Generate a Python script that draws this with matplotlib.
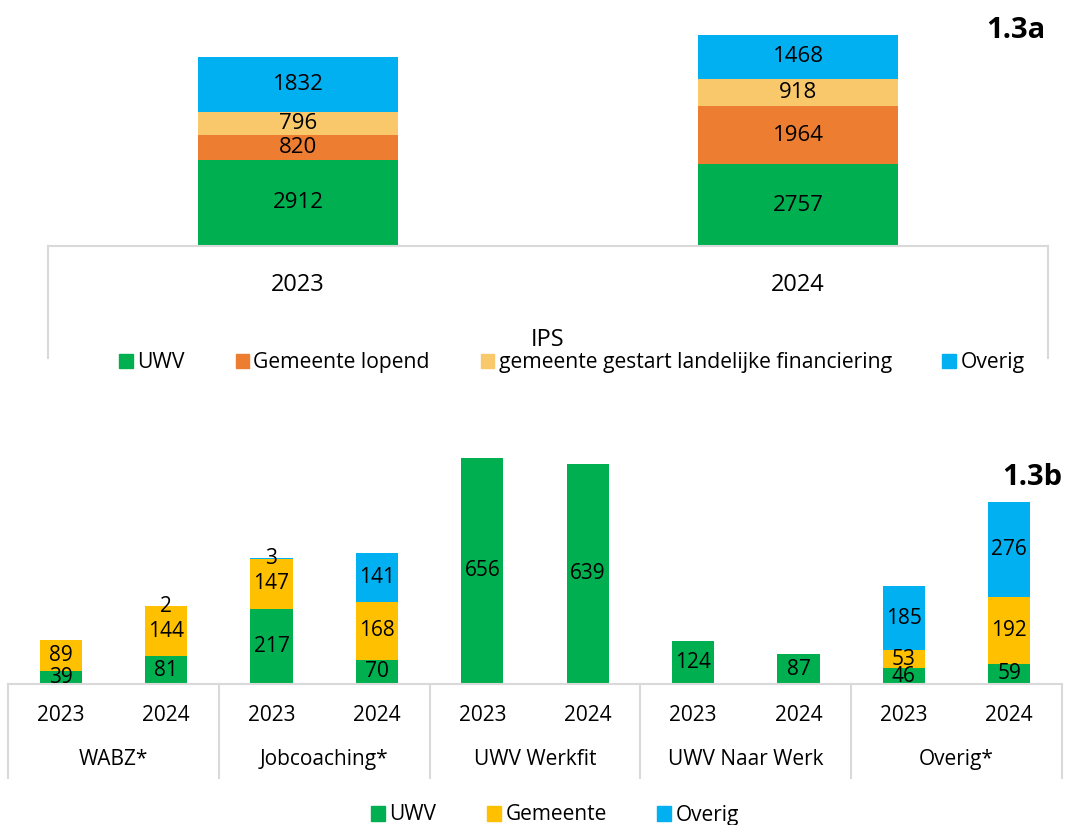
import numpy as np
import matplotlib
matplotlib.use('Agg')
import matplotlib.pyplot as plt
from matplotlib.patches import Patch
import matplotlib.transforms as mtransforms

plt.rcParams['font.family'] = ['Open Sans', 'DejaVu Sans']

# --- 1.3a IPS ---
ips_years = ['2023', '2024']
ips_uwv = [2912, 2757]
ips_gem_lopend = [820, 1964]
ips_gem_gestart = [796, 918]
ips_overig = [1832, 1468]
ips_series = ['UWV', 'Gemeente lopend', 'gemeente gestart landelijke financiering', 'Overig']

# --- 1.3b ---
groups = ['WABZ*', 'Jobcoaching*', 'UWV Werkfit', 'UWV Naar Werk', 'Overig*']
years = ['2023', '2024']
uwv_2023 = [39, 217, 656, 124, 46]
uwv_2024 = [81, 70, 639, 87, 59]
gem_2023 = [89, 147, 0, 0, 53]
gem_2024 = [144, 168, 0, 0, 192]
ov_2023 = [0, 3, 0, 0, 185]
ov_2024 = [2, 141, 0, 0, 276]
b_series = ['UWV', 'Gemeente', 'Overig']

GREEN = '#00B050'
ORANGE = '#ED7D31'
LIGHTOR = '#F8C86A'
BLUE = '#00B0F0'
GOLD = '#FFC000'
GRID = '#D9D9D9'

W, H = 1067, 825
fig = plt.figure(figsize=(W / 100, H / 100), dpi=100)

def px_axes(x0, x1, ytop, ybase):
    return fig.add_axes([x0 / W, 1 - ybase / H, (x1 - x0) / W, (ybase - ytop) / H])

def stack(ax, x, layers, colors, width, fs):
    bottom = np.zeros(len(x))
    for vals, c in zip(layers, colors):
        vals = np.array(vals, dtype=float)
        ax.bar(x, vals, width, bottom=bottom, color=c, zorder=2)
        for xi, b, v in zip(x, bottom, vals):
            if v > 0:
                ax.text(xi, b + v / 2, f'{int(v)}', ha='center', va='center',
                        fontsize=fs, color='black', zorder=3)
        bottom += vals

def frame(ax, seps, ylow):
    for s in ['top', 'right', 'left']:
        ax.spines[s].set_visible(False)
    ax.spines['bottom'].set_color(GRID)
    ax.spines['bottom'].set_linewidth(1.5)
    ax.set_yticks([])
    ax.set_xticks([])
    tr = mtransforms.blended_transform_factory(ax.transData, ax.transAxes)
    for s in seps:
        ax.plot([s, s], [0, ylow], color=GRID, lw=1.5, transform=tr, clip_on=False)
    return tr

# top chart
ax1 = px_axes(48, 1048, 10, 246)
x1 = np.arange(len(ips_years))
stack(ax1, x1, [ips_uwv, ips_gem_lopend, ips_gem_gestart, ips_overig],
      [GREEN, ORANGE, LIGHTOR, BLUE], 0.4, 16)
ax1.set_xlim(-0.5, 1.5)
ax1.set_ylim(0, 7950)
tr1 = frame(ax1, [-0.5, 1.5], -0.475)
for xi, y in zip(x1, ips_years):
    ax1.text(xi, -0.165, y, transform=tr1, ha='center', va='center', fontsize=17)
ax1.text(0.5, -0.398, 'IPS', transform=tr1, ha='center', va='center', fontsize=17)
fig.text(1045 / W, 1 - 30 / H, '1.3a', ha='right', va='center', fontsize=21, fontweight='bold')
h1 = [Patch(color=c) for c in [GREEN, ORANGE, LIGHTOR, BLUE]]
fig.legend(h1, ips_series, loc='center', bbox_to_anchor=(0.536, 1 - 363 / H), ncol=4,
           frameon=False, fontsize=15.2, handlelength=0.65, handleheight=0.65,
           handletextpad=0.2, columnspacing=2.4, borderaxespad=0, borderpad=0)

# bottom chart
ax2 = px_axes(8, 1062, 440, 684)
n = len(groups)
xb = np.arange(2 * n)
uwv = [v for pair in zip(uwv_2023, uwv_2024) for v in pair]
gem = [v for pair in zip(gem_2023, gem_2024) for v in pair]
ov = [v for pair in zip(ov_2023, ov_2024) for v in pair]
stack(ax2, xb, [uwv, gem, ov], [GREEN, GOLD, BLUE], 0.4, 15)
ax2.set_xlim(-0.5, 2 * n - 0.5)
ax2.set_ylim(0, 708)
tr2 = frame(ax2, [2 * i - 0.5 for i in range(n + 1)], -0.385)
for i, g in enumerate(groups):
    for j, y in enumerate(years):
        ax2.text(2 * i + j, -0.131, y, transform=tr2, ha='center', va='center', fontsize=15)
    ax2.text(2 * i + 0.5, -0.311, g, transform=tr2, ha='center', va='center', fontsize=15)
fig.text(1062 / W, 1 - 478 / H, '1.3b', ha='right', va='center', fontsize=21, fontweight='bold')
h2 = [Patch(color=c) for c in [GREEN, GOLD, BLUE]]
fig.legend(h2, b_series, loc='center', bbox_to_anchor=(0.52, 1 - 815 / H), ncol=3,
           frameon=False, fontsize=15, handlelength=0.7, handleheight=0.7,
           handletextpad=0.2, columnspacing=2.4, borderaxespad=0, borderpad=0)

fig.savefig('out.png', dpi=100)
